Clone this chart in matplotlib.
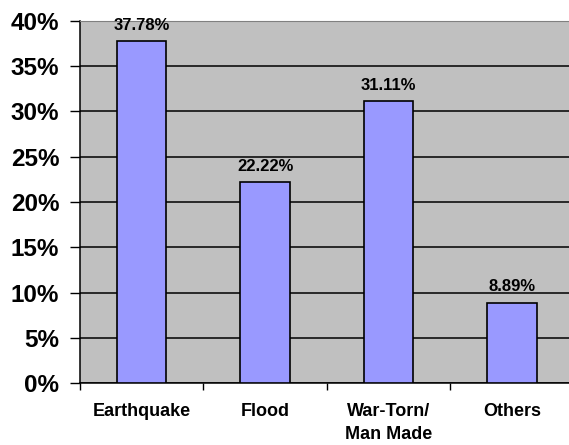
import matplotlib.pyplot as plt
from matplotlib.ticker import FixedLocator, PercentFormatter

categories = ["Earthquake", "Flood", "War-Torn/\nMan Made", "Others"]
percent = [37.78, 22.22, 31.11, 8.89]
value_labels = ["37.78%", "22.22%", "31.11%", "8.89%"]

plt.rcParams['font.family'] = ['Liberation Sans', 'DejaVu Sans']

fig = plt.figure(figsize=(5.69, 4.45), dpi=100)
ax = fig.add_axes([0.1406, 0.139, 0.8674, 0.814])
ax.set_facecolor("#C0C0C0")

x = list(range(len(categories)))
bars = ax.bar(x, percent, width=0.4, color="#9999FF", edgecolor="black",
              linewidth=1.2, zorder=3)

for b, lab in zip(bars, value_labels):
    ax.annotate(lab, (b.get_x() + b.get_width() / 2, b.get_height()),
                xytext=(0, 6), textcoords="offset points",
                ha="center", va="bottom", fontsize=12, fontweight="bold")

ax.set_xlim(-0.5, len(categories) - 0.5)
ax.set_ylim(0, 40)
ax.set_yticks(range(0, 41, 5))
ax.yaxis.set_major_formatter(PercentFormatter(decimals=0))
ax.yaxis.grid(True, color="black", linewidth=1.1, zorder=1)

ax.set_xticks(x)
ax.set_xticklabels(categories, fontsize=13, fontweight="bold", linespacing=1.5)
ax.xaxis.set_minor_locator(FixedLocator([i - 0.5 for i in range(len(categories) + 1)]))
ax.tick_params(axis="x", which="major", length=0, pad=14)
ax.tick_params(axis="x", which="minor", length=5, width=1, direction="out")
ax.tick_params(axis="y", length=7, width=1, pad=8, labelsize=17.5)
for t in ax.get_yticklabels():
    t.set_fontweight("bold")

for s in ["left", "bottom"]:
    ax.spines[s].set_color("black")
    ax.spines[s].set_linewidth(1.1)
ax.spines["top"].set_color("#808080")
ax.spines["right"].set_visible(False)

fig.savefig("out.png", dpi=100)
